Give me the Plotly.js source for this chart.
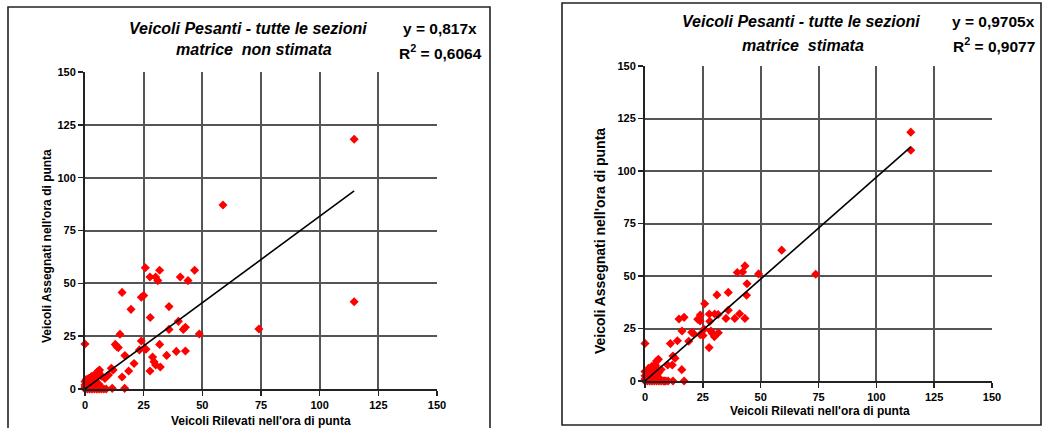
<!DOCTYPE html>
<html>
<head>
<meta charset="utf-8">
<script src="https://cdn.plot.ly/plotly-3.0.1.min.js"></script>
<style>html,body{margin:0;padding:0;background:#fff}#chart{width:1044px;height:428px}</style>
</head>
<body>
<div id="chart"></div>
<script>
// ---- Data: "matrice non stimata" (left) ----
const rilevatiNonStimata = [25.7,31.8,46.7,27.7,30.1,31,40.6,43.9,15.8,24,25,19.6,35.8,27.8,39.8,35.8,41.9,42.8,48.7,14.9,0,12.9,13.6,14.2,24,23.2,25.5,26,31.8,17,28.8,34.8,38.9,42.8,29.4,30.1,32.1,20.9,18.6,27.7,11.2,12,10,15.8,5.7,6.1,16.9,11.6,58.8,74.1,114.7,114.7,
  0,0,0,0,0.5,1,1,1,1.5,2,2,2,2.5,3,3,3,3,4,4,4,4.5,5,5,5,6,6,7,7,8,8.5,9,1.5,2.5,5.8,2.7,5.1,6.2];
const assegnatiNonStimata = [57.4,56.2,56.2,53,53,51.3,53,51.3,45.7,43.4,44.2,37.7,39,33.8,32,28.2,28.2,29.2,26,25.9,21.3,21.1,20,19.6,22.7,18.5,19,18.8,21.1,15.8,15.1,15.9,17.8,18,12.9,11.4,10.4,12.1,8.5,8.5,9.8,9,6.6,5.7,8.5,7.4,0.3,0.3,87.1,28.4,118.2,41.3,
  0,1,2,3.5,4.5,0,1.5,3,5,0,2,3.5,5.5,0,1,3,6,0,2,4.5,6.5,0,3,5.5,0,2,0,6,0,5,0,0.5,1,2.4,5.8,7.9,9];
const slopeNonStimata = 0.817;
const eqNonStimata = "y = 0,817x";
const r2NonStimata = "R<sup>2</sup> = 0,6064";

// ---- Data: "matrice stimata" (right) ----
const rilevatiStimata = [39.9,43.2,42.2,49.1,44.1,36,31.1,43.9,25.8,36,23.9,27.8,30.1,31.6,40.9,16.9,14.7,22.8,23.8,28,35,38.8,43.2,16,20.2,20.9,25.1,23.9,28.5,29.1,31.7,30,27.7,0,18.9,14,11,12.1,13,9.8,11.8,15.9,16.9,12.1,5.8,5,25.5,114.9,114.9,59.1,73.8,
  0,0,0,0,1,1,1,1.5,2,2,2,2.5,3,3,3,3.5,4,4,4,5,5,5,6,6,7,7,8,8.5,9,10,6,3,4.5,3.6,4.3];
const assegnatiStimata = [51.7,54.8,51.9,51,46.3,42.2,41,40.8,36.8,33.7,31.4,31.9,31.9,31.7,32,30.3,29.5,29.4,28.6,28.4,29.8,29.8,29.8,23.8,23.2,22.7,21.7,22.1,23.8,22.7,23,21.1,15.9,17.9,18.9,19.2,17.8,11.9,10.8,7.6,7.6,5.4,0,0,10.3,9.5,24.6,118.5,109.9,62.3,50.8,
  0,1,2.5,4.5,0,1.5,3,6,0,2,4,5,0,1.5,3.5,6,0,2,5,0,2.5,6,0,1.5,0,5.5,0,0,0,0,4,7,7.5,5.7,7.6];
const slopeStimata = 0.9705;
const eqStimata = "y = 0,9705x";
const r2Stimata = "R<sup>2</sup> = 0,9077";

const titleLine1 = "Veicoli Pesanti - tutte le sezioni";
const subtitleNonStimata = "matrice\u00a0 non stimata";
const subtitleStimata = "matrice\u00a0 stimata";
const xTitle = "Veicoli Rilevati nell'ora di punta";
const yTitle = "Veicoli Assegnati nell'ora di punta";
const tickValues = [0,25,50,75,100,125,150];

// ---- helpers for pixel placement ----
const W = 1044, H = 428;
const fx = p => p / W;
const fy = p => 1 - p / H;
const FONT = "Liberation Sans, Arial, sans-serif";

function fitLine(xs, slope) {
  const xmax = Math.max(...xs);
  return {x: [0, xmax], y: [0, slope * xmax]};
}
const l1 = fitLine(rilevatiNonStimata, slopeNonStimata);
const l2 = fitLine(rilevatiStimata, slopeStimata);

const markerStyle = {symbol: 'diamond', size: 7, color: '#ff0000', line: {width: 0}};

const traces = [
  {type: 'scatter', mode: 'markers', x: rilevatiNonStimata, y: assegnatiNonStimata, xaxis: 'x', yaxis: 'y', marker: markerStyle, cliponaxis: false},
  {type: 'scatter', mode: 'lines', x: l1.x, y: l1.y, xaxis: 'x', yaxis: 'y', line: {color: '#000', width: 1.6}, cliponaxis: false},
  {type: 'scatter', mode: 'markers', x: rilevatiStimata, y: assegnatiStimata, xaxis: 'x2', yaxis: 'y2', marker: markerStyle, cliponaxis: false},
  {type: 'scatter', mode: 'lines', x: l2.x, y: l2.y, xaxis: 'x2', yaxis: 'y2', line: {color: '#000', width: 1.6}, cliponaxis: false}
];

function axisBase(extra) {
  return Object.assign({
    range: [0, 150], tickvals: tickValues, ticktext: tickValues.map(String),
    showgrid: true, gridcolor: '#555', gridwidth: 2,
    zeroline: false, showline: true, linecolor: '#222', linewidth: 2,
    ticks: 'outside', ticklen: 5, tickwidth: 1.5, tickcolor: '#222',
    tickfont: {family: FONT, size: 11, color: '#000', weight: 700},
    fixedrange: true
  }, extra);
}

const tf = (size, italic) => ({family: FONT, size: size, color: '#000', weight: 700, style: italic ? 'italic' : 'normal'});
function ann(text, xp, yp, font, extra) {
  return Object.assign({text: text, xref: 'paper', yref: 'paper', x: fx(xp), y: fy(yp),
    xanchor: 'center', yanchor: 'middle', showarrow: false, font: font}, extra || {});
}

const layout = {
  width: W, height: H,
  margin: {l: 0, r: 0, t: 0, b: 0},
  paper_bgcolor: '#fff', plot_bgcolor: '#fff',
  showlegend: false,
  xaxis: axisBase({domain: [fx(85), fx(437)], anchor: 'y'}),
  yaxis: axisBase({domain: [fy(389), fy(72)], anchor: 'x'}),
  xaxis2: axisBase({domain: [fx(645), fx(992)], anchor: 'y2'}),
  yaxis2: axisBase({domain: [fy(381), fy(66)], anchor: 'x2'}),
  shapes: [
    {type: 'rect', xref: 'paper', yref: 'paper', x0: fx(8), x1: fx(490), y0: fy(445), y1: fy(7), line: {color: '#222', width: 1.6}, layer: 'below'},
    {type: 'rect', xref: 'paper', yref: 'paper', x0: fx(562), x1: fx(1041), y0: fy(425), y1: fy(3), line: {color: '#222', width: 1.6}, layer: 'below'}
  ],
  annotations: [
    ann(titleLine1, 248, 28, tf(16, true)),
    ann(subtitleNonStimata, 254, 50, tf(16, true)),
    ann(eqNonStimata, 440, 28, tf(15.5, false)),
    ann(r2NonStimata, 440, 52, tf(15.5, false)),
    ann(titleLine1, 801, 22, tf(16, true)),
    ann(subtitleStimata, 803, 45, tf(16, true)),
    ann(eqStimata, 993, 22, tf(15.5, false)),
    ann(r2Stimata, 994, 45, tf(15.5, false)),
    ann(xTitle, 261, 421, tf(12, false)),
    ann(xTitle, 820, 411, tf(12, false)),
    ann(yTitle, 47, 246, tf(12, false), {textangle: -90}),
    ann(yTitle, 600, 241, tf(14, false), {textangle: -90})
  ]
};

Plotly.newPlot('chart', traces, layout, {displayModeBar: false, staticPlot: true});
</script>
</body>
</html>
